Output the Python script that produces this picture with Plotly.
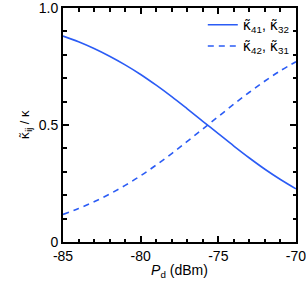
import plotly.graph_objects as go

# Drive power (dBm)
pd_dbm = [-85, -84, -83, -82, -81, -80, -79, -78, -77, -76, -75, -74, -73, -72, -71, -70]
# kappa41, kappa32 (solid)
k_41_32 = [0.880, 0.856, 0.827, 0.794, 0.757, 0.716, 0.670, 0.621, 0.569, 0.516,
           0.463, 0.410, 0.359, 0.311, 0.267, 0.227]
# kappa42, kappa31 (dashed)
k_42_31 = [0.118, 0.143, 0.172, 0.205, 0.242, 0.283, 0.329, 0.378, 0.430, 0.483,
           0.536, 0.589, 0.640, 0.688, 0.732, 0.770]

x_ticks = [-85, -80, -75, -70]
x_ticktext = ["-85", "-80", "-75", "-70"]
y_ticks = [0, 0.5, 1.0]
y_ticktext = ["0", "0.5", "1.0"]

blue = "#2b5cf5"
font = "Arial, Liberation Sans, sans-serif"
K = '<span style="font-family:DejaVu Sans">κ̃</span>'

fig = go.Figure()
fig.add_trace(go.Scatter(x=pd_dbm, y=k_41_32, mode="lines", line=dict(color=blue, width=1.6, shape="spline"),
                         name=f"{K}<sub>41</sub>, {K}<sub>32</sub>"))
fig.add_trace(go.Scatter(x=pd_dbm, y=k_42_31, mode="lines",
                         line=dict(color=blue, width=1.6, dash="6px,5px", shape="spline"),
                         name=f"{K}<sub>42</sub>, {K}<sub>31</sub>"))

axis_common = dict(showline=True, linecolor="black", linewidth=2, mirror="allticks",
                   ticks="inside", ticklen=6, tickwidth=1.5, tickcolor="black",
                   showgrid=False, zeroline=False, automargin=False,
                   tickfont=dict(family=font, size=14, color="black"))

fig.update_xaxes(range=[-85, -69.999], tickvals=x_ticks, ticktext=x_ticktext, ticklabeloverflow="allow",
                 minor=dict(dtick=1, ticks="inside", ticklen=3.5, tickwidth=1.5, tickcolor="black"),
                 title=dict(text="<i>P</i><sub>d</sub> (dBm)", font=dict(family=font, size=14, color="black"), standoff=2),
                 **axis_common)
fig.update_yaxes(range=[0, 1.0], tickvals=y_ticks, ticktext=y_ticktext, ticklabeloverflow="allow",
                 minor=dict(dtick=0.1, ticks="inside", ticklen=3.5, tickwidth=1.5, tickcolor="black"),
                 title=dict(text=f"{K}<sub>ij</sub> / κ", font=dict(family=font, size=13, color="black"), standoff=6),
                 **axis_common)

fig.update_layout(width=306, height=287, margin=dict(l=63, r=10, t=8, b=45),
                  paper_bgcolor="white", plot_bgcolor="white",
                  font=dict(family=font, color="black"),
                  legend=dict(x=0.6, y=0.995, xanchor="left", yanchor="top", bgcolor="rgba(0,0,0,0)",
                              font=dict(family=font, size=14, color="black"), tracegroupgap=0,
                              itemwidth=30))

fig.write_html("out.html", config={"displayModeBar": False},
               post_script="document.body.style.margin='0';document.body.style.overflow='hidden';")
